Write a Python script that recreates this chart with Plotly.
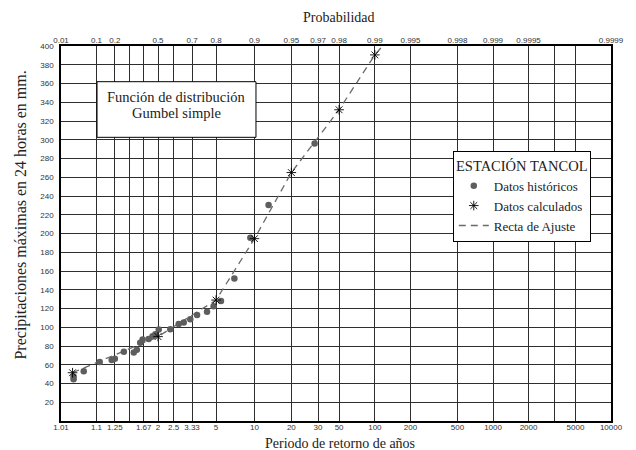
import numpy as np
import plotly.graph_objects as go

# ---------------- data ----------------
prob_ticks = [0.01, 0.1, 0.2, 0.3, 0.4, 0.5, 0.6, 0.7, 0.8, 0.9, 0.95, 0.97, 0.98,
              0.99, 0.995, 0.998, 0.999, 0.9995, 0.9997, 0.9998, 0.9999]
prob_labels = ['0.01', '0.1', '0.2', '', '', '0.5', '', '0.7', '0.8', '0.9', '0.95', '0.97',
               '0.98', '0.99', '0.995', '0.998', '0.999', '0.9995', '', '', '0.9999']
period_labels = ['1.01', '1.1', '1.25', '', '1.67', '2', '2.5', '3.33', '5', '10', '20', '30',
                 '50', '100', '200', '500', '1000', '2000', '', '5000', '10000']

hist_T = [1.028, 1.028, 1.055, 1.13, 1.22, 1.25, 1.35, 1.49, 1.54, 1.60, 1.645, 1.77, 1.86,
          1.93, 2.02, 2.38, 2.70, 2.92, 3.24, 3.62, 4.28, 4.79, 5.45, 6.92, 9.26, 13.0, 31.2]
hist_v = [44.5, 47.5, 53, 63, 65, 66.5, 74, 73, 76, 83.5, 87, 87.5, 90.5,
          92.5, 97.5, 98, 103.5, 105, 108.5, 113, 116.5, 122.5, 128, 152, 195.5, 230.5, 296]

calc_T = [1.026, 2, 5, 10, 20, 50, 100]
calc_v = [51.5, 90, 129, 194.5, 265, 332, 390.5]

fit_T = [1.026, 2, 5, 10, 20, 50, 100, 116]
fit_v = [51.5, 90, 129, 194.5, 265, 332, 390.5, 400]

y_ticks = list(range(20, 401, 20))


def gp(p):
    """Gumbel reduced variate from non-exceedance probability."""
    p = np.asarray(p, dtype=float)
    return -np.log(-np.log(p))


def gT(T):
    T = np.asarray(T, dtype=float)
    return gp(1.0 - 1.0 / T)


SERIF = "Liberation Serif, Times New Roman, serif"
SANS = "Liberation Sans, Arial, sans-serif"

fig = go.Figure()

fig.add_trace(go.Scatter(
    x=gT(fit_T), y=fit_v, mode='lines', name='Recta de Ajuste', legendrank=3,
    line=dict(color='#6a6a6a', width=1.3, dash='7px,5px'),
))
fig.add_trace(go.Scatter(
    x=gT(hist_T), y=hist_v, mode='markers', name='Datos históricos', legendrank=1,
    xaxis='x2',
    marker=dict(symbol='circle', size=6.5, color='#5e5e5e'),
))
fig.add_trace(go.Scatter(
    x=gT(calc_T), y=calc_v, mode='markers', name='Datos calculados', legendrank=2,
    xaxis='x2',
    marker=dict(symbol='asterisk-open', size=8, color='black',
                line=dict(color='black', width=0.9)),
))

xr = [float(gp(0.01)), float(gp(0.9999))]
tickfont = dict(family=SANS, size=8, color='#333')

fig.update_layout(
    width=636, height=450,
    margin=dict(l=61, r=25, t=46, b=29),
    paper_bgcolor='white', plot_bgcolor='white',
    showlegend=True,
    xaxis=dict(
        range=xr, tickmode='array', tickvals=gp(prob_ticks).tolist(), ticktext=period_labels,
        showgrid=True, gridcolor='#2e2e2e', gridwidth=1, zeroline=False,
        showline=True, linecolor='black', linewidth=1.5, mirror=True,
        ticks='', tickfont=tickfont, tickangle=0, ticklabelstandoff=-2,
    ),
    xaxis2=dict(
        range=xr, overlaying='x', side='top', anchor='y', tickmode='array',
        tickvals=gp(prob_ticks).tolist(), ticktext=prob_labels,
        showgrid=False, zeroline=False, ticks='', tickfont=tickfont, tickangle=0,
    ),
    yaxis=dict(
        range=[0, 400], tickmode='array', tickvals=y_ticks,
        showgrid=True, gridcolor='#2e2e2e', gridwidth=1, zeroline=False,
        showline=True, linecolor='black', linewidth=1.5, mirror=True,
        ticks='', tickfont=tickfont, ticklabelstandoff=4,
    ),
    legend=dict(
        x=0.8378, y=0.599, xanchor='center', yanchor='middle',
        bgcolor='white', bordercolor='black', borderwidth=1,
        font=dict(family=SERIF, size=13, color='#222'),
        title=dict(text='ESTACIÓN TANCOL', side='top center',
                   font=dict(family=SERIF, size=14.5, color='#222')),
        itemwidth=30,
    ),
)

# text box "Función de distribución Gumbel simple"
fig.add_shape(type='rect', xref='paper', yref='paper',
              x0=0.0655, x1=0.3545, y0=0.7565, y1=0.9048,
              fillcolor='white', line=dict(color='black', width=1), layer='above')
fig.add_annotation(xref='paper', yref='paper', x=0.2096, y=0.8648, showarrow=False,
                   text='Función de distribución', xanchor='center', yanchor='middle',
                   font=dict(family=SERIF, size=14.5, color='#222'))
fig.add_annotation(xref='paper', yref='paper', x=0.2096, y=0.8205, showarrow=False,
                   text='Gumbel simple', xanchor='center', yanchor='middle',
                   font=dict(family=SERIF, size=14.5, color='#222'))

# axis titles
fig.add_annotation(xref='paper', yref='paper', x=0.508, y=-0.0587, showarrow=False,
                   text='Periodo de retorno de años', xanchor='center', yanchor='middle',
                   font=dict(family=SERIF, size=14, color='#222'))
fig.add_annotation(xref='paper', yref='paper', x=0.506, y=1.0773, showarrow=False,
                   text='Probabilidad', xanchor='center', yanchor='middle',
                   font=dict(family=SERIF, size=14, color='#222'))
fig.add_annotation(xref='paper', yref='paper', x=-0.072, y=0.549, showarrow=False,
                   text='Precipitaciones máximas en 24 horas en mm.', textangle=-90,
                   xanchor='center', yanchor='middle',
                   font=dict(family=SERIF, size=16, color='#222'))

fig.write_html('out.html', config={'displayModeBar': False},
               post_script="document.body.style.margin='0px';")
